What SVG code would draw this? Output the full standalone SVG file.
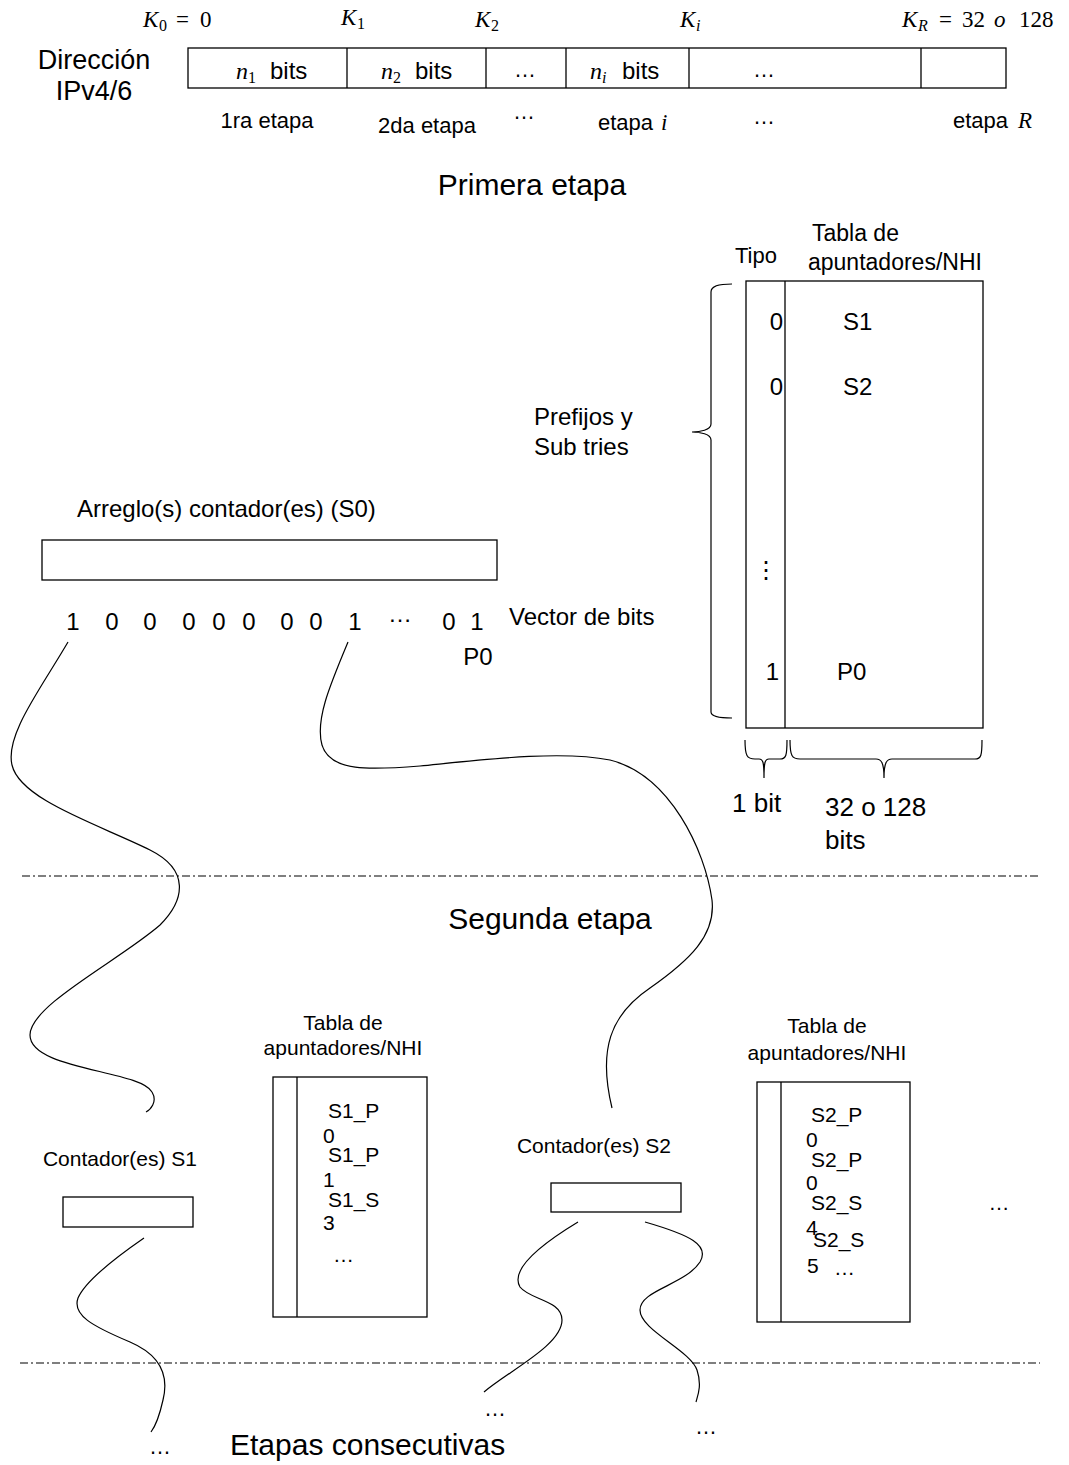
<svg xmlns="http://www.w3.org/2000/svg" width="1069" height="1465" viewBox="0 0 1069 1465">
<style>
.t{font-family:"Liberation Sans",Arial,sans-serif;fill:#000}
.m{font-family:"Liberation Serif","Times New Roman",serif;font-style:italic;fill:#000}
.u{font-family:"Liberation Serif","Times New Roman",serif;font-style:normal;fill:#000}
.box{fill:none;stroke:#000;stroke-width:1.3}
.ln{fill:none;stroke:#000;stroke-width:1.2}
.dd{fill:none;stroke:#000;stroke-width:1.2;stroke-dasharray:8 3 2 3}
</style>
<rect width="1069" height="1465" fill="#fff"/>

<g id="address">
  <rect class="box" x="188" y="48" width="818" height="40"/>
  <line class="box" x1="347" y1="48" x2="347" y2="88"/>
  <line class="box" x1="486" y1="48" x2="486" y2="88"/>
  <line class="box" x1="566" y1="48" x2="566" y2="88"/>
  <line class="box" x1="689" y1="48" x2="689" y2="88"/>
  <line class="box" x1="921" y1="48" x2="921" y2="88"/>
  <text class="t" font-size="27" x="94" y="69" text-anchor="middle">Dirección</text>
  <text class="t" font-size="27" x="94" y="100" text-anchor="middle">IPv4/6</text>
  <text font-size="23" y="27"><tspan class="m" x="143">K</tspan><tspan class="u" x="159" dy="4" font-size="16">0</tspan><tspan class="u" x="176" dy="-4">=</tspan><tspan class="u" x="200">0</tspan></text>
  <text font-size="23" y="25"><tspan class="m" x="341">K</tspan><tspan class="u" x="357" dy="4" font-size="16">1</tspan></text>
  <text font-size="23" y="27"><tspan class="m" x="475">K</tspan><tspan class="u" x="491" dy="4" font-size="16">2</tspan></text>
  <text font-size="23" y="27"><tspan class="m" x="680">K</tspan><tspan class="m" x="696" dy="4" font-size="16">i</tspan></text>
  <text font-size="23" y="27"><tspan class="m" x="902">K</tspan><tspan class="m" x="918" dy="4" font-size="16">R</tspan><tspan class="u" x="939" dy="-4">=</tspan><tspan class="u" x="962">32</tspan><tspan class="m" x="994">o</tspan><tspan class="u" x="1019">128</tspan></text>
  <text font-size="24" y="79"><tspan class="m" x="236">n</tspan><tspan class="u" x="248" dy="4" font-size="16">1</tspan><tspan class="t" x="270" dy="-4">bits</tspan></text>
  <text font-size="24" y="79"><tspan class="m" x="381">n</tspan><tspan class="u" x="393" dy="4" font-size="16">2</tspan><tspan class="t" x="415" dy="-4">bits</tspan></text>
  <text class="t" font-size="22" x="525" y="77" text-anchor="middle">…</text>
  <text font-size="24" y="79"><tspan class="m" x="590">n</tspan><tspan class="m" x="602" dy="4" font-size="16">i</tspan><tspan class="t" x="622" dy="-4">bits</tspan></text>
  <text class="t" font-size="22" x="764" y="77" text-anchor="middle">…</text>
  <text class="t" font-size="22" x="267" y="128" text-anchor="middle">1ra etapa</text>
  <text class="t" font-size="22" x="427" y="133" text-anchor="middle">2da etapa</text>
  <text class="t" font-size="22" x="524" y="119" text-anchor="middle">…</text>
  <text font-size="22" y="130"><tspan class="t" x="598">etapa</tspan><tspan class="m" font-size="23" x="661">i</tspan></text>
  <text class="t" font-size="22" x="764" y="124" text-anchor="middle">…</text>
  <text font-size="22" y="128"><tspan class="t" x="953">etapa</tspan><tspan class="m" font-size="23" x="1018">R</tspan></text>
</g>

<text class="t" font-size="30" x="532" y="195" text-anchor="middle">Primera etapa</text>

<g id="tabla1">
  <text class="t" font-size="22" x="756" y="263" text-anchor="middle">Tipo</text>
  <text class="t" font-size="23" x="812" y="241">Tabla de</text>
  <text class="t" font-size="23" x="808" y="270">apuntadores/NHI</text>
  <rect class="box" x="746" y="281" width="237" height="447"/>
  <line class="box" x1="785" y1="281" x2="785" y2="728"/>
  <text class="t" font-size="24" x="783" y="330" text-anchor="end">0</text>
  <text class="t" font-size="24" x="843" y="330">S1</text>
  <text class="t" font-size="24" x="783" y="395" text-anchor="end">0</text>
  <text class="t" font-size="24" x="843" y="395">S2</text>
  <text class="t" font-size="24" x="766" y="578" text-anchor="middle">⋮</text>
  <text class="t" font-size="24" x="779" y="680" text-anchor="end">1</text>
  <text class="t" font-size="24" x="837" y="680">P0</text>
  <path class="ln" d="M732,284 C718,284 711,286 711,292 L711,424 C711,430 700,432 692,432 C700,432 711,434 711,440 L711,712 C711,716 718,718 732,718"/>
  <path class="ln" d="M745,740 C745,756 747,759 755,759 L759,759 C763,759 764,762 764,778 M764,778 C764,762 765,759 769,759 L780,759 C786,759 787,756 787,740"/>
  <path class="ln" d="M790,740 C790,756 792,759 800,759 L876,759 C881,759 884,762 884,778 M884,778 C884,762 887,759 892,759 L975,759 C981,759 982,756 982,740"/>
  <text class="t" font-size="26" x="732" y="812">1 bit</text>
  <text class="t" font-size="26" x="825" y="816">32 o 128</text>
  <text class="t" font-size="26" x="825" y="849">bits</text>
  <text class="t" font-size="24" x="534" y="425">Prefijos y</text>
  <text class="t" font-size="24" x="534" y="455">Sub tries</text>
</g>

<g id="s0">
  <text class="t" font-size="24" x="77" y="517">Arreglo(s) contador(es) (S0)</text>
  <rect class="box" x="42" y="540" width="455" height="40"/>
  <g class="t" font-size="24" text-anchor="middle">
    <text x="73" y="630">1</text>
    <text x="112" y="630">0</text>
    <text x="150" y="630">0</text>
    <text x="189" y="630">0</text>
    <text x="219" y="630">0</text>
    <text x="249" y="630">0</text>
    <text x="287" y="630">0</text>
    <text x="316" y="630">0</text>
    <text x="355" y="630">1</text>
    <text x="400" y="622">…</text>
    <text x="449" y="630">0</text>
    <text x="477" y="630">1</text>
    <text x="478" y="665">P0</text>
  </g>
  <text class="t" font-size="24" x="509" y="625">Vector de bits</text>
</g>

<g id="separators">
  <line class="dd" x1="22" y1="876" x2="1040" y2="876"/>
  <line class="dd" x1="20" y1="1363" x2="1040" y2="1363"/>
</g>

<text class="t" font-size="30" x="550" y="929" text-anchor="middle">Segunda etapa</text>

<g id="s1">
  <text class="t" font-size="21" x="120" y="1166" text-anchor="middle">Contador(es) S1</text>
  <rect class="box" x="63" y="1197" width="130" height="30"/>
</g>

<g id="tabla_s1">
  <text class="t" font-size="21" x="343" y="1030" text-anchor="middle">Tabla de</text>
  <text class="t" font-size="21" x="343" y="1055" text-anchor="middle">apuntadores/NHI</text>
  <rect class="box" x="273" y="1077" width="154" height="240"/>
  <line class="box" x1="297" y1="1077" x2="297" y2="1317"/>
  <g class="t" font-size="21">
    <text x="328" y="1118">S1_P</text>
    <text x="323" y="1143">0</text>
    <text x="328" y="1162">S1_P</text>
    <text x="323" y="1187">1</text>
    <text x="328" y="1207">S1_S</text>
    <text x="323" y="1230">3</text>
    <text x="333" y="1262">…</text>
  </g>
</g>

<g id="s2">
  <text class="t" font-size="21" x="594" y="1153" text-anchor="middle">Contador(es) S2</text>
  <rect class="box" x="551" y="1183" width="130" height="29"/>
</g>

<g id="tabla_s2">
  <text class="t" font-size="21" x="827" y="1033" text-anchor="middle">Tabla de</text>
  <text class="t" font-size="21" x="827" y="1060" text-anchor="middle">apuntadores/NHI</text>
  <rect class="box" x="757" y="1082" width="153" height="240"/>
  <line class="box" x1="781" y1="1082" x2="781" y2="1322"/>
  <g class="t" font-size="21">
    <text x="811" y="1122">S2_P</text>
    <text x="806" y="1147">0</text>
    <text x="811" y="1167">S2_P</text>
    <text x="806" y="1190">0</text>
    <text x="811" y="1210">S2_S</text>
    <text x="806" y="1235">4</text>
    <text x="813" y="1247">S2_S</text>
    <text x="807" y="1273">5</text>
    <text x="834" y="1275">…</text>
  </g>
  <text class="t" font-size="21" x="999" y="1210" text-anchor="middle">…</text>
</g>

<g id="connectors">
  <path class="ln" d="M68,642 C40,690 5,735 12,765 C20,800 100,825 150,850 C190,870 185,900 160,925 C120,960 30,1005 30,1035 C30,1070 140,1070 152,1092 C158,1102 150,1110 146,1112"/>
  <path class="ln" d="M348,642 C330,685 315,720 322,745 C330,772 370,770 420,766 C480,760 560,750 610,760 C670,775 705,850 712,900 C716,935 690,960 650,988 C610,1015 598,1050 612,1108"/>
  <path class="ln" d="M144,1238 C115,1258 85,1282 78,1298 C72,1315 92,1326 130,1342 C165,1357 168,1380 163,1400 C159,1418 154,1428 151,1432"/>
  <path class="ln" d="M578,1222 C540,1245 510,1270 520,1287 C530,1300 562,1300 562,1320 C562,1345 510,1370 484,1392"/>
  <path class="ln" d="M645,1222 C690,1235 710,1245 700,1262 C685,1285 640,1290 640,1310 C640,1330 690,1350 697,1370 C702,1385 698,1395 696,1402"/>
</g>

<g id="bottom">
  <text class="t" font-size="22" x="160" y="1454" text-anchor="middle">…</text>
  <text class="t" font-size="30" x="230" y="1455">Etapas consecutivas</text>
  <text class="t" font-size="22" x="495" y="1416" text-anchor="middle">…</text>
  <text class="t" font-size="22" x="706" y="1434" text-anchor="middle">…</text>
</g>
</svg>
